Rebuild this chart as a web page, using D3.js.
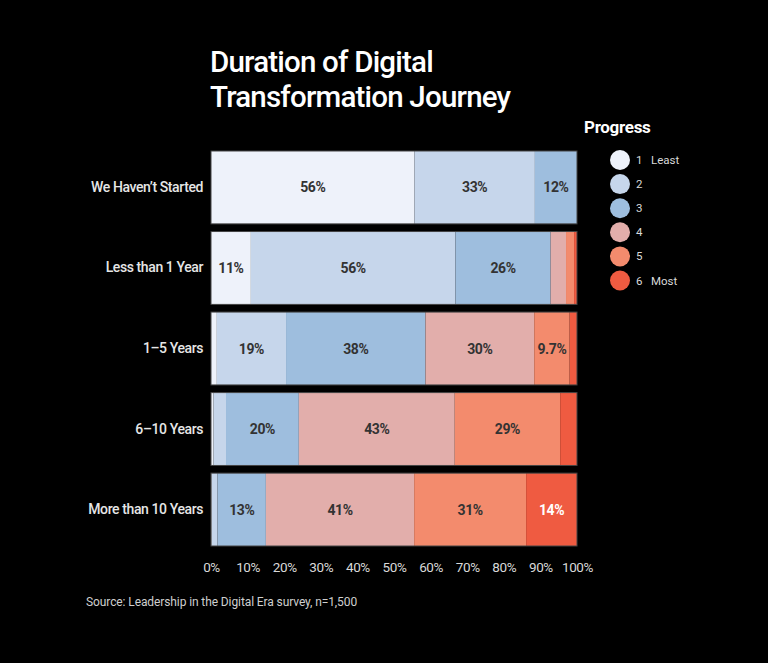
<!DOCTYPE html>
<html>
<head>
<meta charset="utf-8">
<script src="https://cdn.jsdelivr.net/npm/d3@7"></script>
<style>
  html, body { margin: 0; padding: 0; background: #000; }
  svg { display: block; }
  text { font-family: Roboto, "Noto Sans", sans-serif; }
</style>
</head>
<body>
<script>
// ---- data ----
const categories = ["We Haven\u2019t Started", "Less than 1 Year", "1\u20135 Years", "6\u201310 Years", "More than 10 Years"];
const levels = ["1", "2", "3", "4", "5", "6"];
const levelNames = ["Least", "", "", "", "", "Most"];
const level1 = [55.6, 10.9, 1.6, 0.7, 0.2];
const level2 = [32.9, 55.9, 18.9, 3.4, 1.6];
const level3 = [11.5, 26.0, 38.1, 19.9, 13.2];
const level4 = [0, 4.2, 29.7, 42.6, 40.5];
const level5 = [0, 2.2, 9.7, 28.8, 30.6];
const level6 = [0, 0.8, 2.0, 4.6, 13.9];
const xTicks = [0, 10, 20, 30, 40, 50, 60, 70, 80, 90, 100];
const colors = ["#eef2fa", "#c6d6eb", "#9ebede", "#e2aeab", "#f38b6d", "#ef5b41"];

const series = [level1, level2, level3, level4, level5, level6];
const W = 768, H = 663;

const svg = d3.select("body").append("svg").attr("width", W).attr("height", H);
svg.append("rect").attr("width", W).attr("height", H).attr("fill", "#000");

const x = d3.scaleLinear().domain([0, 100]).range([211, 577]);
const y = d3.scaleBand().domain(categories).range([151, 546]).paddingInner(0.095).paddingOuter(0);
const color = d3.scaleOrdinal().domain(levels).range(colors);

// stack
const rows = categories.map((c, i) => {
  const o = { cat: c };
  levels.forEach((l, j) => o[l] = series[j][i]);
  return o;
});
const stacked = d3.stack().keys(levels)(rows);

// title
const title = svg.append("text").attr("x", 211).attr("fill", "#fff")
  .attr("font-size", 29.5).attr("font-weight", 500).attr("letter-spacing", -0.8);
title.append("tspan").attr("x", 210).attr("y", 72).text("Duration of Digital");
title.append("tspan").attr("x", 210).attr("y", 107).text("Transformation Journey");

// bars
const fmt = d3.format(".2");
const g = svg.append("g");
stacked.forEach((s, j) => {
  const grp = g.append("g").attr("fill", colors[j]);
  grp.selectAll("rect").data(s).join("rect")
    .attr("x", d => x(d[0]))
    .attr("y", d => y(d.data.cat))
    .attr("width", d => x(d[1]) - x(d[0]))
    .attr("height", y.bandwidth());
  grp.selectAll("text").data(s.filter(d => d[1] - d[0] >= 9)).join("text")
    .attr("x", d => (x(d[0]) + x(d[1])) / 2)
    .attr("y", d => y(d.data.cat) + y.bandwidth() / 2)
    .attr("dy", "0.36em")
    .attr("text-anchor", "middle")
    .attr("font-size", 14).attr("font-weight", 700).attr("letter-spacing", -0.4)
    .attr("fill", j === 5 ? "#fff" : "#333")
    .text(d => fmt(d[1] - d[0]) + "%");
});
// bar outlines
g.selectAll("rect.outline").data(categories).join("rect")
  .attr("class", "outline")
  .attr("x", x(0)).attr("y", d => y(d))
  .attr("width", x(100) - x(0)).attr("height", y.bandwidth())
  .attr("fill", "none").attr("stroke", "#444").attr("stroke-width", 1);

// category labels
const yAxis = svg.append("g").attr("transform", `translate(${x(0) - 2},0)`)
  .call(d3.axisLeft(y).tickSize(0).tickPadding(6));
yAxis.select(".domain").remove();
yAxis.selectAll("text").attr("fill", "#e6e6e6").attr("font-size", 14)
  .attr("font-weight", 500).attr("letter-spacing", -0.4)
  .style("font-family", "Roboto, sans-serif");

// x axis
const xAxis = svg.append("g").attr("transform", "translate(0,560)")
  .call(d3.axisBottom(x).tickValues(xTicks).tickSize(0).tickPadding(2).tickFormat(d => d + "%"));
xAxis.select(".domain").remove();
xAxis.selectAll("text").attr("fill", "#d9d9d9").attr("font-size", 13.5)
  .attr("letter-spacing", -0.4).style("font-family", "Roboto, sans-serif");

// source
svg.append("text").attr("x", 86).attr("y", 606).attr("fill", "#cfcfcf")
  .attr("font-size", 12).attr("letter-spacing", -0.1)
  .text("Source: Leadership in the Digital Era survey, n=1,500");

// legend
svg.append("text").attr("x", 584).attr("y", 133).attr("fill", "#fff")
  .attr("font-size", 17).attr("font-weight", 700).attr("letter-spacing", -0.3).text("Progress");
const ly = d3.scalePoint().domain(levels).range([160, 280.5]);
const leg = svg.append("g").selectAll("g").data(levels).join("g")
  .attr("transform", d => `translate(620,${ly(d)})`);
leg.append("circle").attr("r", 10).attr("fill", d => color(d));
leg.append("text").attr("x", 16).attr("dy", "0.35em").attr("fill", "#d9d9d9")
  .attr("font-size", 11.5).text(d => d);
leg.append("text").attr("x", 31).attr("dy", "0.35em").attr("fill", "#d9d9d9")
  .attr("font-size", 11.5).text((d, i) => levelNames[i]);
</script>
</body>
</html>
